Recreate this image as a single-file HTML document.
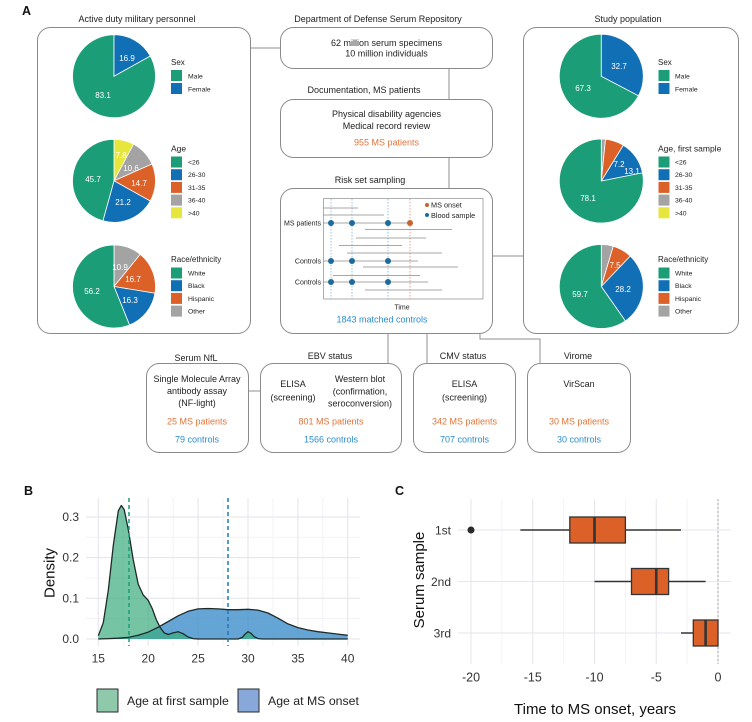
<!DOCTYPE html>
<html><head><meta charset="utf-8"><style>
html,body{margin:0;padding:0;background:#fff;}
svg{display:block;font-family:"Liberation Sans",Arial,sans-serif;}
</style></head><body>
<svg width="752" height="722" viewBox="0 0 752 722" xmlns="http://www.w3.org/2000/svg">
<rect width="752" height="722" fill="#fff"/>

<!-- ============ PANEL A ============ -->
<text x="22" y="15" font-size="12.5" font-weight="bold" fill="#111">A</text>

<!-- connectors -->
<g stroke="#8f8f8f" stroke-width="1" fill="none">
<line x1="251" y1="48" x2="280" y2="48"/>
<line x1="449" y1="69" x2="449" y2="99"/>
<line x1="449" y1="158" x2="449" y2="188"/>
<line x1="493" y1="256" x2="523" y2="256"/>
<line x1="388" y1="334" x2="388" y2="363"/>
<line x1="427" y1="334" x2="427" y2="363"/>
<polyline points="480,334 480,339 540,339 540,363"/>
<line x1="249" y1="391" x2="260" y2="391"/>
</g>

<!-- boxes -->
<g stroke="#8a8a8a" stroke-width="1" fill="#fff">
<rect x="37.5" y="27.5" width="213" height="306" rx="13"/>
<rect x="523.5" y="27.5" width="215" height="306" rx="13"/>
<rect x="280.5" y="27.5" width="212" height="41" rx="13"/>
<rect x="280.5" y="99.5" width="212" height="58" rx="13"/>
<rect x="280.5" y="188.5" width="212" height="145" rx="13"/>
<rect x="146.5" y="363.5" width="102" height="89" rx="13"/>
<rect x="260.5" y="363.5" width="141" height="89" rx="13"/>
<rect x="413.5" y="363.5" width="102" height="89" rx="13"/>
<rect x="527.5" y="363.5" width="103" height="89" rx="13"/>
</g>

<!-- titles -->
<g font-size="9" fill="#222" text-anchor="middle">
<text x="137" y="22">Active duty military personnel</text>
<text x="378" y="22">Department of Defense Serum Repository</text>
<text x="628" y="22">Study population</text>
<text x="386.5" y="46">62 million serum specimens</text>
<text x="386.5" y="56.5">10 million individuals</text>
<text x="364" y="93">Documentation, MS patients</text>
<text x="386.5" y="117">Physical disability agencies</text>
<text x="386.5" y="129">Medical record review</text>
<text x="386.5" y="145.5" fill="#e0743a">955 MS patients</text>
<text x="370" y="183">Risk set sampling</text>
<text x="382" y="322.5" fill="#2b8ccc">1843 matched controls</text>

<text x="196" y="361">Serum NfL</text>
<text x="330" y="359">EBV status</text>
<text x="463" y="359">CMV status</text>
<text x="578" y="359">Virome</text>

<text x="197" y="382">Single Molecule Array</text>
<text x="197" y="394">antibody assay</text>
<text x="197" y="406">(NF-light)</text>
<text x="197" y="424.5" fill="#e0743a">25 MS patients</text>
<text x="197" y="442.5" fill="#2b8ccc">79 controls</text>

<text x="293" y="387">ELISA</text>
<text x="293" y="400.5">(screening)</text>
<text x="360" y="382">Western blot</text>
<text x="360" y="394.5">(confirmation,</text>
<text x="360" y="406.5">seroconversion)</text>
<text x="331" y="424.5" fill="#e0743a">801 MS patients</text>
<text x="331" y="442.5" fill="#2b8ccc">1566 controls</text>

<text x="464.5" y="387">ELISA</text>
<text x="464.5" y="400.5">(screening)</text>
<text x="464.5" y="424.5" fill="#e0743a">342 MS patients</text>
<text x="464.5" y="442.5" fill="#2b8ccc">707 controls</text>

<text x="579" y="387">VirScan</text>
<text x="579" y="424.5" fill="#e0743a">30 MS patients</text>
<text x="579" y="442.5" fill="#2b8ccc">30 controls</text>
</g>

<!-- Left pies -->
<g stroke="#fff" stroke-width="0.8">
<!-- Sex -->
<path d="M114,76.2 L150.24,55.97 A41.5,41.5 0 1 1 114,34.7 Z" fill="#1b9e77"/>
<path d="M114,76.2 L114,34.7 A41.5,41.5 0 0 1 150.24,55.97 Z" fill="#1170b5"/>
<!-- Age -->
<path d="M114,180.8 L114,139.3 A41.5,41.5 0 0 1 133.54,144.18 Z" fill="#e6e63c"/>
<path d="M114,180.8 L133.54,144.18 A41.5,41.5 0 0 1 151.98,164.07 Z" fill="#a3a3a3"/>
<path d="M114,180.8 L151.98,164.07 A41.5,41.5 0 0 1 150.24,201.02 Z" fill="#dc6128"/>
<path d="M114,180.8 L150.24,201.02 A41.5,41.5 0 0 1 102.92,220.79 Z" fill="#1170b5"/>
<path d="M114,180.8 L102.92,220.79 A41.5,41.5 0 0 1 114,139.3 Z" fill="#1b9e77"/>
<!-- Race -->
<path d="M114,286.5 L114,245 A41.5,41.5 0 0 1 140.25,254.36 Z" fill="#a3a3a3"/>
<path d="M114,286.5 L140.25,254.36 A41.5,41.5 0 0 1 154.95,293.25 Z" fill="#dc6128"/>
<path d="M114,286.5 L154.95,293.25 A41.5,41.5 0 0 1 129.52,324.99 Z" fill="#1170b5"/>
<path d="M114,286.5 L129.52,324.99 A41.5,41.5 0 1 1 114,245 Z" fill="#1b9e77"/>
</g>
<g font-size="8" fill="#fff" text-anchor="middle">
<text x="127" y="61">16.9</text>
<text x="103" y="98">83.1</text>
<text x="121" y="158">7.8</text>
<text x="131" y="171">10.6</text>
<text x="139" y="186">14.7</text>
<text x="123" y="205">21.2</text>
<text x="93" y="182">45.7</text>
<text x="120" y="270">10.9</text>
<text x="133" y="282">16.7</text>
<text x="130" y="303">16.3</text>
<text x="92" y="294">56.2</text>
</g>

<!-- Left legends -->
<g font-size="7.5" fill="#222">
<text x="171" y="65" font-size="8">Sex</text>
<rect x="171" y="70" width="11" height="11" fill="#1b9e77"/>
<rect x="171" y="83" width="11" height="11" fill="#1170b5"/>
<text x="188" y="78.5" font-size="6.8">Male</text>
<text x="188" y="91.5" font-size="6.8">Female</text>

<text x="171" y="151.5" font-size="8.5">Age</text>
<rect x="171" y="156.5" width="11" height="11" fill="#1b9e77"/>
<rect x="171" y="169.2" width="11" height="11" fill="#1170b5"/>
<rect x="171" y="181.9" width="11" height="11" fill="#dc6128"/>
<rect x="171" y="194.6" width="11" height="11" fill="#a3a3a3"/>
<rect x="171" y="207.3" width="11" height="11" fill="#e6e63c"/>
<g font-size="6.8">
<text x="188" y="164.5">&lt;26</text>
<text x="188" y="177.2">26-30</text>
<text x="188" y="189.9">31-35</text>
<text x="188" y="202.6">36-40</text>
<text x="188" y="215.3">&gt;40</text>
</g>

<text x="171" y="262" font-size="8">Race/ethnicity</text>
<rect x="171" y="267.5" width="11" height="11" fill="#1b9e77"/>
<rect x="171" y="280.2" width="11" height="11" fill="#1170b5"/>
<rect x="171" y="292.9" width="11" height="11" fill="#dc6128"/>
<rect x="171" y="305.6" width="11" height="11" fill="#a3a3a3"/>
<g font-size="6.8">
<text x="188" y="275.5">White</text>
<text x="188" y="288.2">Black</text>
<text x="188" y="300.9">Hispanic</text>
<text x="188" y="313.6">Other</text>
</g>
</g>

<!-- Right pies -->
<g stroke="#fff" stroke-width="0.8">
<path d="M601.3,76.2 L638.48,95.73 A42,42 0 1 1 601.3,34.2 Z" fill="#1b9e77"/>
<path d="M601.3,76.2 L601.3,34.2 A42,42 0 0 1 638.48,95.73 Z" fill="#1170b5"/>

<path d="M601.3,181 L601.3,139 A42,42 0 0 1 605.52,139.21 Z" fill="#a3a3a3"/>
<path d="M601.3,181 L605.52,139.21 A42,42 0 0 1 623.36,145.26 Z" fill="#dc6128"/>
<path d="M601.3,181 L623.36,145.26 A42,42 0 0 1 642.51,172.87 Z" fill="#1170b5"/>
<path d="M601.3,181 L642.51,172.87 A42,42 0 1 1 601.3,139 Z" fill="#1b9e77"/>

<path d="M601.3,286.5 L601.3,244.5 A42,42 0 0 1 613.27,246.24 Z" fill="#a3a3a3"/>
<path d="M601.3,286.5 L613.27,246.24 A42,42 0 0 1 630.25,256.08 Z" fill="#dc6128"/>
<path d="M601.3,286.5 L630.25,256.08 A42,42 0 0 1 625.34,320.94 Z" fill="#1170b5"/>
<path d="M601.3,286.5 L625.34,320.94 A42,42 0 1 1 601.3,244.5 Z" fill="#1b9e77"/>
</g>
<g font-size="8" fill="#fff" text-anchor="middle">
<text x="619" y="69">32.7</text>
<text x="583" y="91">67.3</text>
<text x="619" y="167">7.2</text>
<text x="632" y="174">13.1</text>
<text x="588" y="201">78.1</text>
<text x="615" y="268">7.5</text>
<text x="623" y="292">28.2</text>
<text x="580" y="297">59.7</text>
</g>

<!-- Right legends -->
<g font-size="7.5" fill="#222">
<text x="658" y="65" font-size="8">Sex</text>
<rect x="658.5" y="70" width="11" height="11" fill="#1b9e77"/>
<rect x="658.5" y="83" width="11" height="11" fill="#1170b5"/>
<text x="675" y="78.5" font-size="6.8">Male</text>
<text x="675" y="91.5" font-size="6.8">Female</text>

<text x="658" y="151.5" font-size="8.5">Age, first sample</text>
<rect x="658.5" y="156.5" width="11" height="11" fill="#1b9e77"/>
<rect x="658.5" y="169.2" width="11" height="11" fill="#1170b5"/>
<rect x="658.5" y="181.9" width="11" height="11" fill="#dc6128"/>
<rect x="658.5" y="194.6" width="11" height="11" fill="#a3a3a3"/>
<rect x="658.5" y="207.3" width="11" height="11" fill="#e6e63c"/>
<g font-size="6.8">
<text x="675" y="164.5">&lt;26</text>
<text x="675" y="177.2">26-30</text>
<text x="675" y="189.9">31-35</text>
<text x="675" y="202.6">36-40</text>
<text x="675" y="215.3">&gt;40</text>
</g>

<text x="658" y="262" font-size="8">Race/ethnicity</text>
<rect x="658.5" y="267.5" width="11" height="11" fill="#1b9e77"/>
<rect x="658.5" y="280.2" width="11" height="11" fill="#1170b5"/>
<rect x="658.5" y="292.9" width="11" height="11" fill="#dc6128"/>
<rect x="658.5" y="305.6" width="11" height="11" fill="#a3a3a3"/>
<g font-size="6.8">
<text x="675" y="275.5">White</text>
<text x="675" y="288.2">Black</text>
<text x="675" y="300.9">Hispanic</text>
<text x="675" y="313.6">Other</text>
</g>
</g>

<!-- Risk set sampling plot -->
<rect x="323.5" y="198.5" width="159.5" height="100.5" fill="#fff" stroke="#9a9a9a" stroke-width="0.8"/>
<g stroke-width="0.7" stroke-dasharray="1.5,1.5" fill="none">
<line x1="331" y1="199" x2="331" y2="299" stroke="#6fa8d6"/>
<line x1="352" y1="199" x2="352" y2="299" stroke="#6fa8d6"/>
<line x1="388" y1="199" x2="388" y2="299" stroke="#6fa8d6"/>
<line x1="410" y1="199" x2="410" y2="299" stroke="#e07a6a"/>
</g>
<g stroke="#8a8a8a" stroke-width="0.8">
<line x1="323" y1="208" x2="358" y2="208"/>
<line x1="323" y1="215" x2="384" y2="215"/>
<line x1="323" y1="223" x2="410" y2="223"/>
<line x1="365" y1="229.5" x2="452" y2="229.5"/>
<line x1="356" y1="238" x2="426" y2="238"/>
<line x1="339" y1="245.5" x2="402" y2="245.5"/>
<line x1="347" y1="253" x2="442" y2="253"/>
<line x1="323" y1="261" x2="418" y2="261"/>
<line x1="363" y1="267" x2="458" y2="267"/>
<line x1="333" y1="275.5" x2="420" y2="275.5"/>
<line x1="323" y1="282" x2="428" y2="282"/>
<line x1="365" y1="290" x2="442" y2="290"/>
</g>
<g fill="#1d6a9c">
<circle cx="331" cy="223" r="3"/><circle cx="352" cy="223" r="3"/><circle cx="388" cy="223" r="3"/>
<circle cx="331" cy="261" r="3"/><circle cx="352" cy="261" r="3"/><circle cx="388" cy="261" r="3"/>
<circle cx="331" cy="282" r="3"/><circle cx="352" cy="282" r="3"/><circle cx="388" cy="282" r="3"/>
<circle cx="427" cy="215" r="2"/>
</g>
<circle cx="410" cy="223" r="3" fill="#c8632e"/>
<circle cx="427" cy="205" r="2" fill="#c8632e"/>
<g font-size="7" fill="#222">
<text x="431" y="207.5" font-size="7.3">MS onset</text>
<text x="431" y="217.8" font-size="7.3">Blood sample</text>
<text x="321" y="225.5" text-anchor="end">MS patients</text>
<text x="321" y="263.5" text-anchor="end">Controls</text>
<text x="321" y="284.5" text-anchor="end">Controls</text>
<text x="402" y="309.5" text-anchor="middle">Time</text>
</g>

<!-- ============ PANEL B ============ -->
<text x="24" y="495" font-size="12.5" font-weight="bold" fill="#111">B</text>
<g stroke="#f1f1f5" stroke-width="0.8">
<line x1="123.2" y1="498" x2="123.2" y2="646"/>
<line x1="173.2" y1="498" x2="173.2" y2="646"/>
<line x1="223.1" y1="498" x2="223.1" y2="646"/>
<line x1="273" y1="498" x2="273" y2="646"/>
<line x1="322.8" y1="498" x2="322.8" y2="646"/>
<line x1="86" y1="618.7" x2="360" y2="618.7"/>
<line x1="86" y1="578" x2="360" y2="578"/>
<line x1="86" y1="537.2" x2="360" y2="537.2"/>
</g>
<g stroke="#e6e6ec" stroke-width="1.1">
<line x1="98.3" y1="498" x2="98.3" y2="646"/>
<line x1="148.2" y1="498" x2="148.2" y2="646"/>
<line x1="198.1" y1="498" x2="198.1" y2="646"/>
<line x1="248" y1="498" x2="248" y2="646"/>
<line x1="297.9" y1="498" x2="297.9" y2="646"/>
<line x1="347.7" y1="498" x2="347.7" y2="646"/>
<line x1="86" y1="639" x2="360" y2="639"/>
<line x1="86" y1="598.3" x2="360" y2="598.3"/>
<line x1="86" y1="557.6" x2="360" y2="557.6"/>
<line x1="86" y1="516.9" x2="360" y2="516.9"/>
</g>
<!-- blue density -->
<path d="M98.3,639 L108.3,638.6 L118.3,638.2 L128.2,637.4 L138.2,635.3 L148.2,632.1 L158.2,627.2 L168.2,621.5 L178.1,615.8 L188.1,611.3 L198.1,608.9 L208.1,608.5 L218.1,608.9 L228,609.7 L238,609.7 L248,609.3 L258,610.1 L268,613 L278,618.2 L288,623.9 L297.9,627.6 L307.9,630 L317.9,631.7 L327.9,632.9 L337.9,634.1 L347.7,635.3 L347.7,639 Z" fill="#3f8fca" fill-opacity="0.8"/>
<!-- green density -->
<path d="M98.3,635.7 L103.3,622.7 L108.3,590.2 L113.3,545.4 L118.3,510.8 L121.3,505.5 L124.2,509.6 L128.2,529.1 L133.2,559.6 L138.2,584.1 L143.2,595 L148.2,600.3 L152.2,608.5 L156.2,619.5 L160.2,627.6 L164.2,632.9 L168.2,634.5 L173.1,632.9 L178.1,631.7 L183.1,633.7 L188.1,637 L193.1,638.6 L198.1,639 L238,639 L242.2,637.4 L245.1,634.1 L248,631.7 L251,633.3 L254,636.6 L258,638.6 L263,639 L347.7,639 L98.3,639 Z" fill="#3bab7d" fill-opacity="0.7"/>
<g fill="none" stroke="#1e2a2a" stroke-width="1.3" stroke-linejoin="round">
<path d="M98.3,639 L108.3,638.6 L118.3,638.2 L128.2,637.4 L138.2,635.3 L148.2,632.1 L158.2,627.2 L168.2,621.5 L178.1,615.8 L188.1,611.3 L198.1,608.9 L208.1,608.5 L218.1,608.9 L228,609.7 L238,609.7 L248,609.3 L258,610.1 L268,613 L278,618.2 L288,623.9 L297.9,627.6 L307.9,630 L317.9,631.7 L327.9,632.9 L337.9,634.1 L347.7,635.3"/>
<path d="M98.3,635.7 L103.3,622.7 L108.3,590.2 L113.3,545.4 L118.3,510.8 L121.3,505.5 L124.2,509.6 L128.2,529.1 L133.2,559.6 L138.2,584.1 L143.2,595 L148.2,600.3 L152.2,608.5 L156.2,619.5 L160.2,627.6 L164.2,632.9 L168.2,634.5 L173.1,632.9 L178.1,631.7 L183.1,633.7 L188.1,637 L193.1,638.6 L198.1,639 L238,639 L242.2,637.4 L245.1,634.1 L248,631.7 L251,633.3 L254,636.6 L258,638.6 L263,639 L347.7,639"/>
</g>
<line x1="129" y1="498" x2="129" y2="646" stroke="#1b9e77" stroke-width="1.5" stroke-dasharray="4,3"/>
<line x1="228" y1="498" x2="228" y2="646" stroke="#1f78b4" stroke-width="1.5" stroke-dasharray="4,3"/>
<g font-size="12" fill="#333">
<g text-anchor="end">
<text x="79" y="643">0.0</text>
<text x="79" y="602.3">0.1</text>
<text x="79" y="561.6">0.2</text>
<text x="79" y="520.9">0.3</text>
</g>
<g text-anchor="middle">
<text x="98.3" y="662.5">15</text>
<text x="148.2" y="662.5">20</text>
<text x="198.1" y="662.5">25</text>
<text x="248" y="662.5">30</text>
<text x="297.9" y="662.5">35</text>
<text x="347.7" y="662.5">40</text>
</g>
</g>
<text transform="translate(54.5,573) rotate(-90)" font-size="15" fill="#111" text-anchor="middle">Density</text>
<!-- legend B -->
<rect x="97" y="689" width="21" height="23" fill="#8ec9ab" stroke="#2a2a2a" stroke-width="1"/>
<text x="127" y="705" font-size="12.3" fill="#222">Age at first sample</text>
<rect x="238" y="689" width="21" height="23" fill="#87a8d8" stroke="#2a2a2a" stroke-width="1"/>
<text x="268" y="705" font-size="12.3" fill="#222">Age at MS onset</text>

<!-- ============ PANEL C ============ -->
<text x="395" y="495" font-size="12.5" font-weight="bold" fill="#111">C</text>
<g stroke="#f1f1f5" stroke-width="0.8">
<line x1="501.9" y1="499" x2="501.9" y2="664"/>
<line x1="563.6" y1="499" x2="563.6" y2="664"/>
<line x1="625.4" y1="499" x2="625.4" y2="664"/>
<line x1="687.1" y1="499" x2="687.1" y2="664"/>
</g>
<g stroke="#e6e6ec" stroke-width="1.1">
<line x1="471" y1="499" x2="471" y2="664"/>
<line x1="532.75" y1="499" x2="532.75" y2="664"/>
<line x1="594.5" y1="499" x2="594.5" y2="664"/>
<line x1="656.25" y1="499" x2="656.25" y2="664"/>
<line x1="718" y1="499" x2="718" y2="664"/>
<line x1="458" y1="530" x2="731" y2="530"/>
<line x1="458" y1="581.5" x2="731" y2="581.5"/>
<line x1="458" y1="633" x2="731" y2="633"/>
</g>
<line x1="718" y1="499" x2="718" y2="664" stroke="#999" stroke-width="0.8" stroke-dasharray="2,2"/>
<g stroke="#333" stroke-width="1.5">
<line x1="520.4" y1="530" x2="569.8" y2="530"/>
<line x1="625.4" y1="530" x2="681" y2="530"/>
<line x1="594.5" y1="581.5" x2="631.5" y2="581.5"/>
<line x1="668.6" y1="581.5" x2="705.6" y2="581.5"/>
<line x1="681" y1="633" x2="693.3" y2="633"/>
</g>
<g fill="#dc6128" stroke="#333" stroke-width="1.3">
<rect x="569.8" y="517" width="55.6" height="26"/>
<rect x="631.5" y="568.5" width="37.1" height="26"/>
<rect x="693.3" y="620" width="24.7" height="26"/>
</g>
<g stroke="#333" stroke-width="2.6">
<line x1="594.5" y1="517" x2="594.5" y2="543"/>
<line x1="656.25" y1="568.5" x2="656.25" y2="594.5"/>
<line x1="705.6" y1="620" x2="705.6" y2="646"/>
</g>
<circle cx="471" cy="530" r="3.5" fill="#2a2a2a"/>
<g font-size="12" fill="#333">
<g text-anchor="end">
<text x="451" y="534.5">1st</text>
<text x="451" y="586">2nd</text>
<text x="451" y="637.5">3rd</text>
</g>
<g text-anchor="middle" font-size="12.5">
<text x="471" y="681.5">-20</text>
<text x="532.75" y="681.5">-15</text>
<text x="594.5" y="681.5">-10</text>
<text x="656.25" y="681.5">-5</text>
<text x="718" y="681.5">0</text>
</g>
</g>
<text transform="translate(424,580) rotate(-90)" font-size="15" fill="#111" text-anchor="middle">Serum sample</text>
<text x="595" y="714" font-size="15" fill="#111" text-anchor="middle">Time to MS onset, years</text>
</svg>
</body></html>
